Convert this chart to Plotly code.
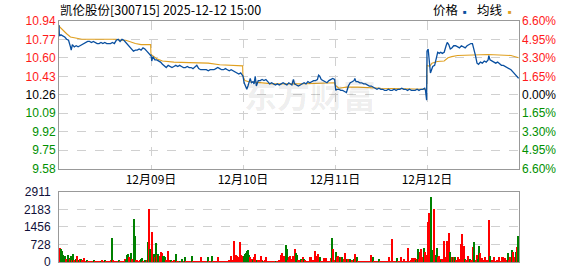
import plotly.graph_objects as go

# ---------------- data ----------------
PREV_CLOSE = 10.26
DAY_LEN = 241  # minutes per trading day (09:30-11:30, 13:00-15:00)
DATE_TICKS = ["12月09日", "12月10日", "12月11日", "12月12日"]

PRICE_LABELS = ["9.58", "9.75", "9.92", "10.09", "10.26", "10.43", "10.60", "10.77", "10.94"]
PCT_LABELS = ["6.60%", "4.95%", "3.30%", "1.65%", "0.00%", "1.65%", "3.30%", "4.95%", "6.60%"]
VOL_TICKS = [0, 728, 1456, 2183, 2911]

# day 1 (12-08)
D1_MIN = [0, 1, 5, 10, 15, 20, 25, 30, 32, 35, 40, 45, 50, 55, 60, 65, 70, 75, 80, 85, 90, 95, 100,
          105, 110, 115, 120, 125, 130, 135, 140, 145, 150, 155, 160, 165, 170, 175, 180, 185, 190,
          195, 200, 205, 210, 215, 220, 225, 230, 235, 240]
D1_PRICE = [10.90, 10.80, 10.81, 10.80, 10.79, 10.77, 10.76, 10.70, 10.67, 10.72, 10.70, 10.71, 10.70,
            10.71, 10.72, 10.73, 10.74, 10.75, 10.75, 10.74, 10.75, 10.74, 10.73, 10.73, 10.74, 10.73,
            10.74, 10.73, 10.73, 10.73, 10.74, 10.73, 10.76, 10.77, 10.75, 10.77, 10.76, 10.74, 10.71,
            10.69, 10.67, 10.66, 10.67, 10.67, 10.68, 10.67, 10.69, 10.68, 10.66, 10.64, 10.62]
D1_AVG_MIN = [0, 10, 20, 30, 45, 60, 150, 160, 175, 185, 200, 215, 240]
D1_AVG = [10.89, 10.85, 10.82, 10.79, 10.78, 10.77, 10.77, 10.76, 10.76, 10.745, 10.73, 10.72, 10.72]

# day 2 (12-09)
D2_MIN = [0, 2, 5, 10, 15, 20, 25, 30, 35, 40, 45, 50, 55, 60, 65, 70, 75, 80, 85, 90, 95, 100, 105,
          110, 115, 120, 125, 130, 135, 140, 145, 150, 155, 160, 165, 170, 175, 180, 185, 190, 195,
          200, 205, 210, 215, 220, 225, 230, 235, 240]
D2_PRICE = [10.63, 10.57, 10.61, 10.58, 10.58, 10.57, 10.56, 10.54, 10.52, 10.51, 10.53, 10.52, 10.51,
            10.52, 10.53, 10.52, 10.53, 10.52, 10.51, 10.51, 10.52, 10.51, 10.51, 10.50, 10.52, 10.53,
            10.50, 10.49, 10.49, 10.49, 10.49, 10.48, 10.49, 10.49, 10.49, 10.50, 10.51, 10.50, 10.49,
            10.49, 10.50, 10.49, 10.48, 10.49, 10.48, 10.47, 10.46, 10.45, 10.46, 10.44]
D2_AVG_MIN = [0, 15, 30, 60, 100, 150, 180, 240]
D2_AVG = [10.63, 10.59, 10.57, 10.56, 10.555, 10.55, 10.535, 10.525]

# day 3 (12-10)
D3_MIN = [0, 3, 6, 10, 13, 16, 19, 22, 26, 29, 32, 35, 40, 45, 50, 55, 60, 65, 70, 75, 80, 85, 90, 95,
          100, 105, 110, 115, 120, 125, 128, 132, 135, 140, 145, 150, 155, 160, 165, 170, 175, 180,
          185, 190, 195, 198, 201, 205, 210, 215, 220, 225, 230, 235, 240]
D3_PRICE = [10.43, 10.37, 10.35, 10.31, 10.34, 10.38, 10.41, 10.37, 10.38, 10.36, 10.43, 10.34, 10.39,
            10.39, 10.40, 10.39, 10.40, 10.38, 10.36, 10.37, 10.36, 10.35, 10.36, 10.35, 10.36, 10.37,
            10.36, 10.35, 10.37, 10.36, 10.35, 10.40, 10.36, 10.35, 10.34, 10.35, 10.36, 10.37, 10.36,
            10.38, 10.37, 10.38, 10.39, 10.39, 10.40, 10.44, 10.43, 10.40, 10.39, 10.38, 10.37, 10.39,
            10.40, 10.41, 10.40]
D3_AVG_MIN = [0, 5, 15, 40, 80, 150, 180, 240]
D3_AVG = [10.43, 10.39, 10.38, 10.37, 10.36, 10.36, 10.365, 10.37]

# day 4 (12-11)
D4_MIN = [0, 2, 5, 10, 15, 20, 25, 30, 35, 40, 45, 50, 52, 55, 60, 65, 70, 75, 80, 85, 90, 95, 100,
          105, 110, 115, 120, 125, 130, 135, 140, 145, 150, 155, 160, 165, 170, 175, 180, 185, 190,
          195, 200, 205, 210, 215, 220, 225, 230, 235, 237, 240]
D4_PRICE = [10.35, 10.30, 10.31, 10.31, 10.30, 10.30, 10.29, 10.28, 10.34, 10.37, 10.38, 10.39, 10.41,
            10.38, 10.38, 10.37, 10.37, 10.36, 10.36, 10.35, 10.34, 10.34, 10.33, 10.32, 10.31, 10.32,
            10.31, 10.31, 10.30, 10.30, 10.31, 10.30, 10.30, 10.31, 10.30, 10.31, 10.31, 10.32, 10.31,
            10.31, 10.30, 10.31, 10.30, 10.30, 10.30, 10.31, 10.30, 10.31, 10.31, 10.32, 10.30, 10.21]
D4_AVG_MIN = [0, 10, 30, 60, 120, 170, 240]
D4_AVG = [10.35, 10.32, 10.33, 10.33, 10.32, 10.315, 10.31]

# day 5 (12-12)
D5_MIN = [0, 3, 6, 9, 12, 15, 20, 24, 28, 32, 36, 40, 45, 50, 53, 57, 61, 65, 70, 75, 80, 85, 90, 95,
          100, 105, 110, 115, 119, 123, 127, 131, 135, 140, 145, 150, 155, 160, 162, 165, 170, 175,
          180, 185, 190, 195, 200, 205, 210, 215, 220, 225, 230, 235, 240]
D5_PRICE = [10.66, 10.68, 10.59, 10.46, 10.49, 10.52, 10.53, 10.60, 10.65, 10.64, 10.65, 10.64, 10.65,
            10.71, 10.74, 10.72, 10.68, 10.69, 10.71, 10.71, 10.70, 10.69, 10.71, 10.70, 10.69, 10.71,
            10.72, 10.73, 10.73, 10.68, 10.62, 10.55, 10.54, 10.56, 10.55, 10.57, 10.56, 10.58, 10.62,
            10.58, 10.57, 10.56, 10.55, 10.56, 10.54, 10.53, 10.53, 10.52, 10.51, 10.50, 10.49, 10.47,
            10.45, 10.43, 10.41]
D5_AVG_MIN = [0, 7, 13, 27, 45, 55, 65, 80, 120, 160, 220, 232, 240]
D5_AVG = [10.53, 10.52, 10.55, 10.565, 10.57, 10.60, 10.61, 10.62, 10.625, 10.63, 10.62, 10.605, 10.60]

# volume in 3-minute bins (80 per day), r = up bar, g = down bar
VOL_D1 = [580, 560, 450, 300, 200, 280, 150, 300, 180, 120, 250, 100, 330, 90, 120, 280, 80, 100, 150, 120,
          100, 180, 70, 60, 90, 50, 60, 40, 70, 50, 80, 60, 50, 70, 40, 60, 50, 80, 60, 50,
          90, 60, 40, 70, 60, 80, 1000, 90, 60, 50, 70, 60, 80, 50, 60, 40, 70, 120, 90, 300,
          350, 200, 390, 120, 150, 1780, 1100, 90, 100, 60, 80, 120, 180, 70, 60, 100, 90, 850, 2200, 570]
DIR_D1 = "rgggggrggr" "grgrgrrgrg" "rrrrgrrrrr" "grrrrrgrrr" "grrrrrgrrr" "rrgrrrrrgg" "grgrrggrrr" "rggrrgrgrg"
VOL_D2 = [1240, 150, 330, 200, 815, 300, 350, 250, 440, 380, 270, 270, 200, 100, 470, 90, 60, 80, 70, 50,
          90, 350, 60, 50, 70, 60, 50, 140, 60, 200, 50, 60, 40, 70, 50, 270, 60, 50, 40, 60,
          50, 70, 40, 200, 50, 60, 40, 50, 60, 200, 50, 40, 60, 240, 50, 40, 60, 50, 200, 40,
          50, 60, 40, 50, 60, 40, 70, 50, 80, 270, 90, 100, 880, 200, 300, 250, 200, 840, 300, 250]
DIR_D2 = "rrgrgrgrrr" "gggrrrrgrr" "rgrrrgrgrg" "rrrrrgrrrr" "rrrrrrrrrg" "rrrgrrrrrr" "rrrrrrrrrr" "rrrrrrrrrr"
VOL_D3 = [250, 350, 400, 450, 510, 300, 200, 120, 100, 220, 360, 100, 80, 90, 100, 240, 80, 70, 60, 90,
          200, 60, 50, 70, 40, 60, 50, 40, 70, 50, 60, 80, 100, 300, 380, 250, 100, 720, 570, 100,
          200, 240, 150, 250, 120, 550, 380, 300, 100, 80, 150, 100, 200, 120, 80, 60, 70, 50, 200, 200,
          60, 80, 470, 270, 90, 360, 80, 200, 70, 60, 160, 160, 160, 60, 50, 70, 160, 985, 530, 100]
DIR_D3 = "ggggggrrgr" "rrgrrrrgrr" "rrrrrrrrgr" "rrrrrrrggr" "rrrrrrggrr" "grrgrrrrrr" "rrrrrrrgrr" "rrrrrrrgrr"
VOL_D4 = [440, 200, 270, 200, 200, 200, 200, 150, 380, 100, 150, 120, 90, 150, 80, 100, 120, 360, 90, 200,
          60, 50, 70, 60, 40, 50, 60, 40, 50, 70, 60, 300, 80, 200, 60, 50, 40, 60, 130, 50,
          40, 60, 50, 40, 60, 50, 70, 220, 60, 950, 60, 50, 40, 60, 160, 50, 60, 200, 50, 60,
          150, 50, 60, 590, 60, 50, 80, 170, 170, 170, 100, 150, 530, 150, 420, 530, 200, 600, 440, 300]
DIR_D4 = "grrrgrgrrr" "grrgrrgrrg" "rrrrrrrrrr" "rrrgrrrrgr" "rrrrrrrrrr" "rrrrgrrrrr" "rrrrrrrrrr" "grgrrrrgrr"
VOL_D5 = [1670, 2050, 1540, 2710, 500, 480, 2200, 300, 600, 200, 240, 150, 100, 130, 900, 150, 200, 900, 740, 1220,
          420, 220, 200, 220, 200, 100, 80, 220, 120, 740, 1180, 150, 670, 130, 100, 240, 80, 130, 100, 90,
          640, 830, 100, 300, 120, 680, 370, 150, 170, 90, 200, 80, 60, 90, 1740, 270, 80, 60, 220, 70,
          60, 80, 200, 70, 60, 200, 220, 100, 180, 90, 380, 90, 200, 100, 520, 440, 200, 420, 620, 1070]
DIR_D5 = "rrrgggrggr" "rrgrrrrrrr" "grgrgrrrrr" "rrrgrrrgrr" "rgrrggrrrr" "rrrrrgrrrr" "rrrrrrrrrr" "grrrgrrgrg"
VOL_BIN = 3

# ---------------- assemble ----------------
price_days = [(D1_MIN, D1_PRICE), (D2_MIN, D2_PRICE), (D3_MIN, D3_PRICE), (D4_MIN, D4_PRICE), (D5_MIN, D5_PRICE)]
avg_days = [(D1_AVG_MIN, D1_AVG), (D2_AVG_MIN, D2_AVG), (D3_AVG_MIN, D3_AVG), (D4_AVG_MIN, D4_AVG), (D5_AVG_MIN, D5_AVG)]
vol_days = [(VOL_D1, DIR_D1), (VOL_D2, DIR_D2), (VOL_D3, DIR_D3), (VOL_D4, DIR_D4), (VOL_D5, DIR_D5)]

pt, pp = [], []
for d, (mins, vals) in enumerate(price_days):
    for m, v in zip(mins, vals):
        pt.append(d * DAY_LEN + m)
        pp.append(v)
at, ap = [], []
for d, (mins, vals) in enumerate(avg_days):
    for m, v in zip(mins, vals):
        at.append(d * DAY_LEN + m)
        ap.append(v)
vt, vv, vc = [], [], []
RED, GREEN = "#ff0000", "#008000"
for d, (vols, dirs) in enumerate(vol_days):
    for k, (v, c) in enumerate(zip(vols, dirs)):
        vt.append(d * DAY_LEN + VOL_BIN * k + VOL_BIN / 2)
        vv.append(v)
        vc.append(RED if c == "r" else GREEN)
pct = [(p / PREV_CLOSE - 1) * 100 for p in pp]

# ---------------- geometry ----------------
W, H = 578, 276
L, R, T, B = 59, 59, 21, 7
PW, PH = W - L - R, H - T - B
def fx(xpx):
    return (xpx - L) / PW
def fy(ypx):
    return (H - B - ypx) / PH

FONT = "Liberation Sans, Arial, Noto Sans CJK SC, sans-serif"
CJK = "Noto Sans CJK SC, sans-serif"
LRED, LGREEN, LBLK = "#ff1a1a", "#009000", "#000000"
GRID = "#d0d0d0"
BORDER = "#999999"

steps = [k * 0.0165 for k in range(-4, 5)]
price_ticks = [PREV_CLOSE * (1 + s) for s in steps]
pct_ticks = [s * 100 for s in steps]
def colored(labels):
    out = []
    for i, lab in enumerate(labels):
        col = LGREEN if i < 4 else (LBLK if i == 4 else LRED)
        out.append('<span style="color:%s">%s</span>' % (col, lab))
    return out

fig = go.Figure()
fig.add_trace(go.Bar(x=vt, y=vv, width=VOL_BIN, marker=dict(color=vc, line=dict(width=0)),
                     xaxis="x2", yaxis="y2", hoverinfo="skip", showlegend=False))
fig.add_trace(go.Scatter(x=at, y=ap, mode="lines", line=dict(color="#e0a020", width=1.1),
                         xaxis="x", yaxis="y", hoverinfo="skip", showlegend=False))
fig.add_trace(go.Scatter(x=pt, y=pp, mode="lines", line=dict(color="#0a50a0", width=1.3),
                         xaxis="x", yaxis="y", hoverinfo="skip", showlegend=False))
fig.add_trace(go.Scatter(x=pt, y=pct, mode="lines", line=dict(width=0), opacity=0,
                         xaxis="x", yaxis="y3", hoverinfo="skip", showlegend=False))

xr = [0, 5 * DAY_LEN]
day_bounds = [DAY_LEN * i for i in range(1, 5)]
price_dom = [fy(172.8), 1.0]
vol_dom = [0.0, fy(196.7)]

fig.update_layout(
    width=W, height=H, margin=dict(l=L, r=R, t=T, b=B),
    paper_bgcolor="white", plot_bgcolor="white", bargap=0,
    font=dict(family=FONT, size=12, color="#000"),
    xaxis=dict(domain=[0, 1], range=xr, anchor="y", tickmode="array", tickvals=day_bounds,
               ticktext=DATE_TICKS, tickfont=dict(family=CJK, size=12, color="#000"),
               showgrid=True, gridcolor=GRID, griddash="dash", gridwidth=1, zeroline=False,
               showline=True, linecolor=BORDER, linewidth=1, mirror=True, ticks=""),
    yaxis=dict(domain=price_dom, range=[price_ticks[0], price_ticks[-1]], anchor="x",
               tickmode="array", tickvals=price_ticks, ticktext=colored(PRICE_LABELS),
               tickfont=dict(size=12), showgrid=True, gridcolor=GRID, griddash="dash",
               zeroline=False, showline=True, linecolor=BORDER, linewidth=1, mirror=True, ticks=""),
    yaxis3=dict(overlaying="y", side="right", anchor="x", range=[pct_ticks[0], pct_ticks[-1]],
                tickmode="array", tickvals=pct_ticks, ticktext=colored(PCT_LABELS),
                tickfont=dict(size=12), showgrid=False, zeroline=False, ticks="",
                ticklabelstandoff=2),
    xaxis2=dict(domain=[0, 1], range=xr, anchor="y2", showticklabels=False, showgrid=False,
                zeroline=False, showline=True, linecolor=BORDER, linewidth=1, mirror=True, ticks=""),
    yaxis2=dict(domain=vol_dom, range=[0, VOL_TICKS[-1]], anchor="x2", tickmode="array",
                tickvals=VOL_TICKS, ticktext=[str(v) for v in VOL_TICKS],
                tickfont=dict(size=12, color="#10103a"), showgrid=True, gridcolor=GRID,
                griddash="dash", zeroline=False, showline=True, linecolor=BORDER, linewidth=1,
                mirror=True, ticks="", ticklabelstandoff=5),
)

ann = [
    dict(text="东方财富", x=fx(310), y=fy(96), font=dict(family=CJK, size=33, color="rgba(0,0,0,0.08)",
         weight="bold"), xanchor="center", yanchor="middle"),
    dict(text="凯伦股份[300715] 2025-12-12 15:00", x=fx(58), y=fy(9), xanchor="left", yanchor="middle",
         font=dict(family=CJK, size=12.5, color="#000")),
    dict(text="价格", x=fx(431), y=fy(9), xanchor="left", yanchor="middle",
         font=dict(family=CJK, size=12.5, color="#000")),
    dict(text="■", x=fx(464.5), y=fy(12), xanchor="center", yanchor="middle",
         font=dict(family=FONT, size=6, color="#0a50a0")),
    dict(text="均线", x=fx(475), y=fy(9), xanchor="left", yanchor="middle",
         font=dict(family=CJK, size=12.5, color="#000")),
    dict(text="■", x=fx(510), y=fy(12), xanchor="center", yanchor="middle",
         font=dict(family=FONT, size=6, color="#e0a020")),
]
for a in ann:
    a.update(xref="paper", yref="paper", showarrow=False)
fig.update_layout(annotations=ann)

fig.write_html("out.html")
